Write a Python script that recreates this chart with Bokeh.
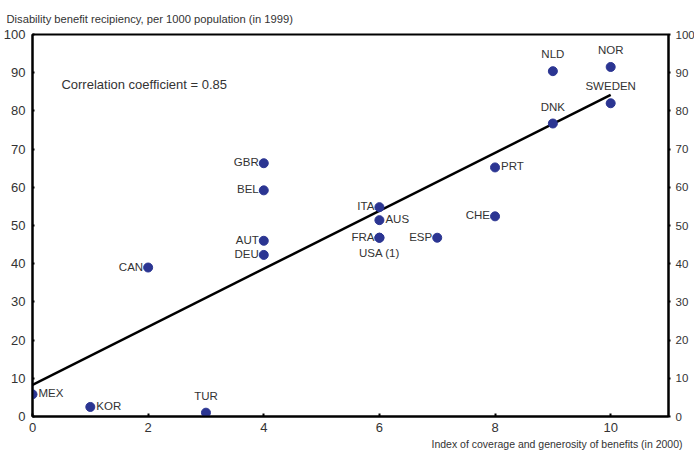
from bokeh.plotting import figure
from bokeh.models import (ColumnDataSource, LinearAxis, FixedTicker, LabelSet, Label, Title, Range1d)
from bokeh.core.properties import value
from bokeh.embed import file_html
from bokeh.resources import INLINE

# ---- data ----
countries = ["MEX", "KOR", "TUR", "CAN", "GBR", "BEL", "AUT", "DEU", "ITA", "AUS",
             "FRA", "USA (1)", "ESP", "CHE", "PRT", "DNK", "NLD", "NOR", "SWEDEN"]
coverage_index = [0, 1, 3, 2, 4, 4, 4, 4, 6, 6, 6, 6, 7, 8, 8, 9, 9, 10, 10]
recipiency = [5.8, 2.5, 1.0, 39.0, 66.3, 59.2, 46.0, 42.3, 54.8, 51.4,
              46.8, 46.8, 46.8, 52.4, 65.2, 76.7, 90.4, 91.5, 82.0]
label_side = ["right", "right", "above", "left", "left", "left", "left", "left", "left", "right",
              "left", "below", "left", "left", "right", "above", "above", "above", "above"]

trend_x = [0, 10]
trend_y = [8.3, 84.2]

x_ticks = [0, 2, 4, 6, 8, 10]
y_ticks = [0, 10, 20, 30, 40, 50, 60, 70, 80, 90, 100]

y_title = "Disability benefit recipiency, per 1000 population (in 1999)"
x_title = "Index of coverage and generosity of benefits (in 2000)"
corr_text = "Correlation coefficient = 0.85"

FONT = "Liberation Sans"
TXT = "#333333"
DOT = "#2B3592"

p = figure(frame_width=636, frame_height=382, output_backend="svg", toolbar_location=None,
           x_range=Range1d(0, 11), y_range=Range1d(0, 100),
           min_border_left=0, min_border_right=0, min_border_top=0, min_border_bottom=0)
p.grid.visible = False
p.background_fill_color = "white"
p.border_fill_color = "white"
p.outline_line_color = "black"
p.outline_line_width = 2

# axes
p.xaxis.ticker = FixedTicker(ticks=x_ticks)
p.yaxis.ticker = FixedTicker(ticks=y_ticks)
for ax in [p.xaxis[0], p.yaxis[0]]:
    ax.axis_line_width = 2
    ax.axis_line_color = "black"
    ax.major_tick_line_color = "black"
    ax.major_tick_line_width = 2
    ax.minor_tick_line_color = None
    ax.major_label_text_font = FONT
    ax.major_label_text_font_size = "13px"
    ax.major_label_text_color = TXT
p.xaxis.major_tick_in = 3
p.xaxis.major_tick_out = 0
p.xaxis.major_label_standoff = 6
p.yaxis.major_tick_in = 2
p.yaxis.major_tick_out = 0
p.yaxis.major_label_standoff = 7

ry = LinearAxis(ticker=FixedTicker(ticks=y_ticks))
ry.axis_line_width = 2
ry.axis_line_color = "black"
ry.major_tick_line_color = "black"
ry.major_tick_line_width = 2
ry.major_tick_in = 0
ry.major_tick_out = 2
ry.minor_tick_line_color = None
ry.major_label_standoff = 5
ry.major_label_text_font = FONT
ry.major_label_text_font_size = "11.5px"
ry.major_label_text_color = TXT
p.add_layout(ry, "right")

# titles
t_top = Title(text=y_title, align="left", offset=-26, text_font=FONT,
              text_font_size="11.2px", text_font_style="normal", text_color=TXT, standoff=20)
p.add_layout(t_top, "above")
t_bot = Title(text=x_title, align="right", offset=-14, text_font=FONT,
              text_font_size="10.5px", text_font_style="normal", text_color=TXT, standoff=3)
p.add_layout(t_bot, "below")

# trend line
p.line(trend_x, trend_y, line_color="black", line_width=2.5)

# points
src = ColumnDataSource(dict(x=coverage_index, y=recipiency, name=countries))
p.scatter("x", "y", source=src, size=9, fill_color=DOT, line_color=DOT)

# labels
offsets = {"left": (-5, 1, "right", "middle"), "right": (6, 1, "left", "middle"),
           "above": (0, 11, "center", "bottom"), "below": (0, -9, "center", "top")}
for side, (dx, dy, al, bl) in offsets.items():
    idx = [i for i, s in enumerate(label_side) if s == side]
    s = ColumnDataSource(dict(x=[coverage_index[i] for i in idx],
                              y=[recipiency[i] for i in idx],
                              name=[countries[i] for i in idx]))
    p.add_layout(LabelSet(x="x", y="y", text="name", source=s, x_offset=dx, y_offset=dy,
                          text_align=al, text_baseline=bl, text_font=value(FONT),
                          text_font_size="11.5px", text_color=TXT))

p.add_layout(Label(x=0.5, y=87, text=corr_text, text_font=FONT, text_font_size="13px",
                   text_color=TXT, text_baseline="middle"))

open("out.html", "w").write(file_html(p, INLINE))
